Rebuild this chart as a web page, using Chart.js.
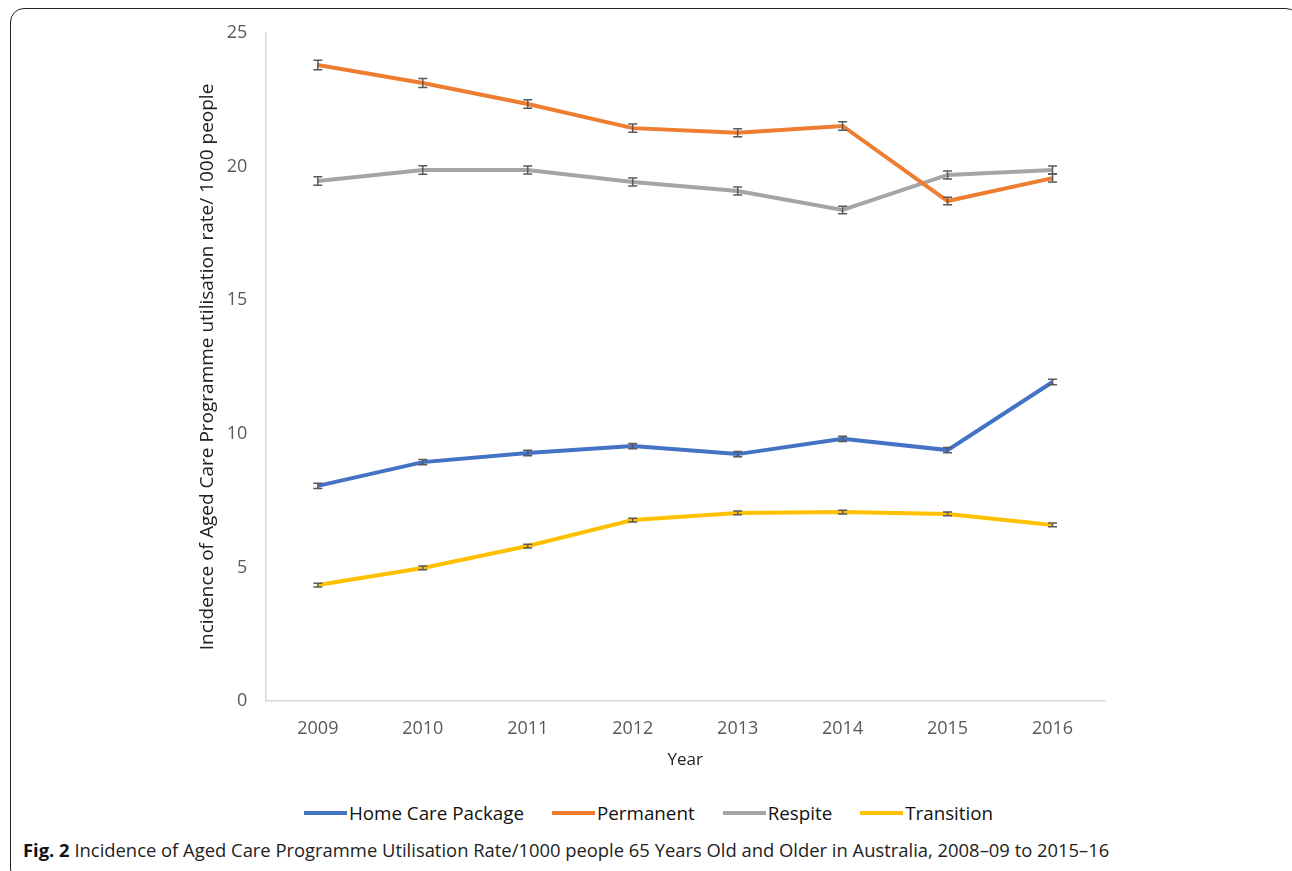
<!DOCTYPE html>
<html>
<head>
<meta charset="utf-8">
<script src="https://cdn.jsdelivr.net/npm/chart.js@4/dist/chart.umd.min.js"></script>
<style>
  html, body { margin: 0; padding: 0; background: #fff; }
  body { width: 1292px; height: 871px; position: relative; overflow: hidden; font-family: "Open Sans", sans-serif; }
  #frame { position: absolute; left: 10px; top: 8px; width: 1290px; height: 875px; border: 1.5px solid #222; border-radius: 14px; box-sizing: border-box; }
  #wrap { position: absolute; left: 0; top: 0; width: 1292px; height: 790px; }
  #legend { position: absolute; left: 0; top: 800px; width: 1297px; display: flex; justify-content: center; font-size: 18.8px; color: #111; }
  #legend .item { display: flex; align-items: center; margin: 0 14px; }
  #legend .swatch { width: 43px; height: 3.5px; margin-right: 2px; }
  #caption { position: absolute; left: 23px; top: 837px; font-size: 18.4px; color: #222; white-space: nowrap; }
  #caption b { color: #111; }
</style>
</head>
<body>
<div id="frame"></div>
<div id="wrap"><canvas id="chart"></canvas></div>
<div id="legend"></div>
<div id="caption"><b>Fig. 2</b> Incidence of Aged Care Programme Utilisation Rate/1000 people 65 Years Old and Older in Australia, 2008–09 to 2015–16</div>
<script>
(function(){

    const years = ['2009', '2010', '2011', '2012', '2013', '2014', '2015', '2016'];

    const homeCare   = [8.05, 8.94, 9.28, 9.54, 9.24, 9.81, 9.39, 11.94];
    const permanent  = [23.8, 23.13, 22.34, 21.44, 21.27, 21.52, 18.71, 19.57];
    const respite    = [19.46, 19.87, 19.87, 19.42, 19.09, 18.38, 19.69, 19.87];
    const transition = [4.34, 4.98, 5.8, 6.77, 7.04, 7.07, 7.0, 6.59];

    // +/- error (half height of the error bars)
    const homeCareErr   = [0.1, 0.1, 0.1, 0.1, 0.1, 0.1, 0.1, 0.1];
    const permanentErr  = [0.18, 0.17, 0.16, 0.15, 0.15, 0.16, 0.14, 0.15];
    const respiteErr    = [0.16, 0.16, 0.15, 0.15, 0.15, 0.14, 0.15, 0.15];
    const transitionErr = [0.07, 0.07, 0.07, 0.07, 0.07, 0.07, 0.07, 0.07];

    const yTicks = [0, 5, 10, 15, 20, 25];

    const errorBars = {
        id: 'errorBars',
        afterDatasetsDraw(chart){
            const ctx = chart.ctx;
            const y = chart.scales.y;
            ctx.save();
            ctx.strokeStyle = '#595959';
            ctx.lineWidth = 1.5;
            chart.data.datasets.forEach((ds, i) => {
                const meta = chart.getDatasetMeta(i);
                meta.data.forEach((pt, j) => {
                    const v = ds.data[j], e = ds.errors[j];
                    const top = y.getPixelForValue(v + e);
                    const bot = y.getPixelForValue(v - e);
                    ctx.beginPath();
                    ctx.moveTo(pt.x, top); ctx.lineTo(pt.x, bot);
                    ctx.moveTo(pt.x - 4.5, top); ctx.lineTo(pt.x + 4.5, top);
                    ctx.moveTo(pt.x - 4.5, bot); ctx.lineTo(pt.x + 4.5, bot);
                    ctx.stroke();
                });
            });
            ctx.restore();
        }
    };

    function series(label, data, errors, color){
        return {
            label: label,
            data: data,
            errors: errors,
            borderColor: color,
            backgroundColor: color,
            borderWidth: 4,
            pointRadius: 0,
            tension: 0
        };
    }

    const chart = new Chart(document.getElementById('chart'), {
        type: 'line',
        data: {
            labels: years,
            datasets: [
                series('Home Care Package', homeCare, homeCareErr, '#4472C4'),
                series('Permanent', permanent, permanentErr, '#ED7D31'),
                series('Respite', respite, respiteErr, '#A5A5A5'),
                series('Transition', transition, transitionErr, '#FFC000')
            ]
        },
        options: {
            responsive: true,
            maintainAspectRatio: false,
            animation: false,
            layout: {
                padding: { left: 192, right: 187, top: 33, bottom: 16 }
            },
            scales: {
                x: {
                    offset: true,
                    grid: { display: false, drawTicks: false },
                    border: { color: '#d9d9d9', width: 1.5 },
                    ticks: { color: '#595959', font: { family: 'Open Sans', size: 18 }, padding: 17 },
                    title: { display: true, text: 'Year', color: '#222', font: { family: 'Open Sans', size: 17 }, padding: { top: -7, bottom: 4 } }
                },
                y: {
                    min: 0,
                    max: 25,
                    afterBuildTicks(scale){ scale.ticks = yTicks.map(v => ({ value: v })); },
                    grid: { display: false, drawTicks: false },
                    border: { color: '#d9d9d9', width: 1.5 },
                    ticks: { color: '#595959', font: { family: 'Open Sans', size: 18 }, padding: 18 },
                    title: { display: true, text: 'Incidence of Aged Care Programme utilisation rate/ 1000 people', color: '#222', font: { family: 'Open Sans', size: 19 }, padding: { top: 4, bottom: -10 } }
                }
            },
            plugins: {
                tooltip: { enabled: false },
                legend: { display: false }
            }
        },
        plugins: [errorBars]
    });

    const legend = document.getElementById('legend');
    chart.data.datasets.forEach(ds => {
        const item = document.createElement('div');
        item.className = 'item';
        const sw = document.createElement('span');
        sw.className = 'swatch';
        sw.style.background = ds.borderColor;
        const txt = document.createElement('span');
        txt.textContent = ds.label;
        item.appendChild(sw);
        item.appendChild(txt);
        legend.appendChild(item);
    });
})();
</script>
</body>
</html>
